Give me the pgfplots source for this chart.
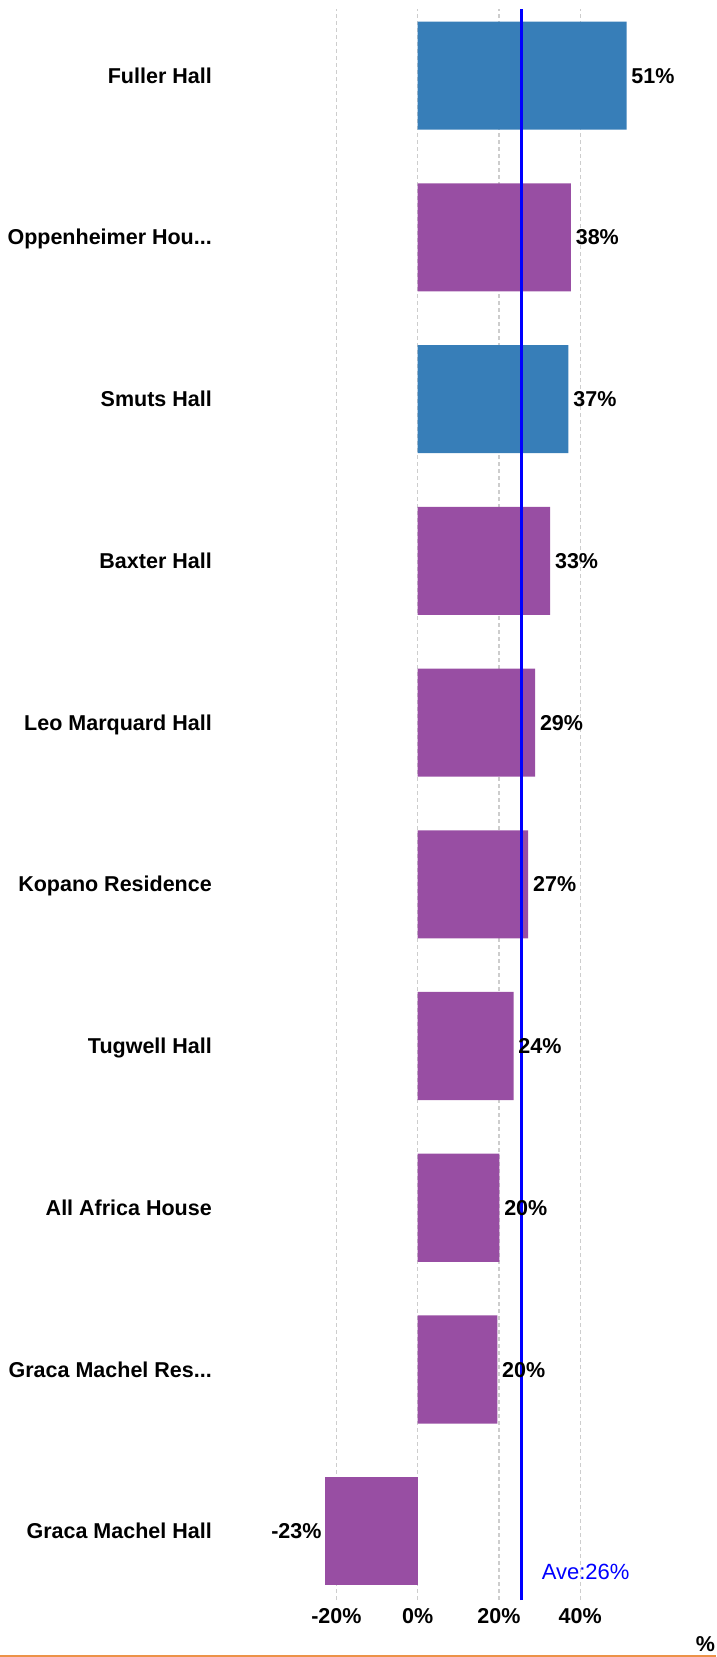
\documentclass[border=0pt]{standalone}
\usepackage{pgfplots}
\pgfplotsset{compat=1.18}
\usepackage{fontspec}
\setmainfont{Liberation Sans}

\definecolor{barblue}{RGB}{55,126,184}
\definecolor{barpurple}{RGB}{152,78,163}
\definecolor{gridgray}{RGB}{205,205,205}
\definecolor{baseorange}{RGB}{236,146,72}

\newcommand\lab{\fontsize{21.5}{25}\selectfont\bfseries}
\newcommand\dotsx{.\kern0pt.\kern0pt.}

\begin{document}
\begin{tikzpicture}
  \useasboundingbox (0,0) rectangle (716pt,1657pt);
  \begin{axis} [
      at           = {(212pt,57pt)},
      anchor       = south west,
      scale only axis,
      width        = 504pt,
      height       = 1590.7pt,
      xmin         = -50.6,
      xmax         = 73.4,
      ymin         = -0.425,
      ymax         = 9.41,
      clip         = false,
      axis line style = {draw=none},
      major tick length = 0pt,
      xtick        = {-20,0,20,40},
      xticklabels  = {-20\%,0\%,20\%,40\%},
      ytick        = {0,1,2,3,4,5,6,7,8,9},
      yticklabels  = {{Graca Machel Hall}, {Graca Machel Res\dotsx}, {All Africa House},
                      {Tugwell Hall}, {Kopano Residence}, {Leo Marquard Hall},
                      {Baxter Hall}, {Smuts Hall}, {Oppenheimer Hou\dotsx}, {Fuller Hall}},
      xmajorgrids,
      major grid style = {gridgray, line width=1.4pt, dash pattern=on 4pt off 3pt},
      xticklabel style = {font=\lab, anchor=base, inner sep=0pt, yshift=-23.5pt},
      yticklabel style = {font=\lab, anchor=base east, inner sep=0pt, yshift=-7.6pt},
      bar width    = 0.668,
      bar shift    = 0pt,
      point meta   = explicit symbolic,
      nodes near coords style = {font=\lab, text=black, anchor=base west,
                                 inner sep=0pt, xshift=4.7pt, yshift=-7.6pt},
    ]
    \addplot [xbar, fill=barblue, draw=none, nodes near coords]
      coordinates {(51.4,9) [51\%] (37.1,7) [37\%]};
    \addplot [xbar, fill=barpurple, draw=none, nodes near coords]
      coordinates {(37.7,8) [38\%] (32.6,6) [33\%] (28.9,5) [29\%] (27.2,4) [27\%]
                   (23.6,3) [24\%] (20.1,2) [20\%] (19.6,1) [20\%]};
    \addplot [xbar, fill=barpurple, draw=none, nodes near coords,
              nodes near coords style = {anchor=base east, xshift=-8pt}]
      coordinates {(-22.8,0) [-23\%]};
    % average line
    \addplot [blue, line width=2.7pt] coordinates {(25.5,-0.425) (25.5,9.41)};
    \node [blue, font=\fontsize{22}{26}\selectfont, anchor=base west, inner sep=0pt,
           yshift=-7.8pt] at (axis cs:30.5,-0.25) {Ave:26\%};
  \end{axis}
  \node [font=\lab, anchor=base, inner sep=0pt] at (705.5pt,5.5pt) {\%};
  \draw [baseorange, line width=2pt] (0,1pt) -- (716pt,1pt);
\end{tikzpicture}
\end{document}
